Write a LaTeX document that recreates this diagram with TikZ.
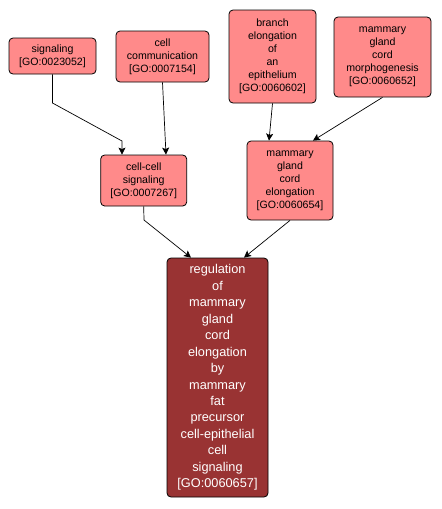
\documentclass[tikz,border=0pt]{standalone}
\usepackage{fontspec}
\setmainfont{Liberation Sans}
\usetikzlibrary{arrows.meta}
\definecolor{lightnode}{RGB}{255,138,138}
\definecolor{darknode}{RGB}{153,51,51}
\begin{document}
\begin{tikzpicture}[x=1pt,y=-1pt,
  gonode/.style={draw=black, line width=0.8pt, rounded corners=4pt, fill=lightnode,
    inner sep=0pt, align=center, font=\fontsize{10.6}{13}\selectfont},
  focusnode/.style={draw=black, line width=0.8pt, rounded corners=4pt, fill=darknode,
    text=white, inner sep=0pt, align=center, font=\fontsize{12.75}{16.45}\selectfont},
  isa/.style={draw=black, line width=0.7pt, -{Stealth[length=7pt,width=7pt,inset=1.5pt]}}
]
\useasboundingbox (0,0) rectangle (442,509);

\node[gonode, minimum width=87pt, minimum height=36pt, text width=87pt] (sig) at (52.5,56) {signaling\\{}[GO:0023052]};
\node[gonode, minimum width=93pt, minimum height=51pt, text width=93pt] (comm) at (162.5,56.5) {cell\\communication\\{}[GO:0007154]};
\node[gonode, minimum width=86pt, minimum height=51pt, text width=86pt] (cc) at (143.7,180.5) {cell-cell\\signaling\\{}[GO:0007267]};
\node[gonode, minimum width=87pt, minimum height=93pt, text width=87pt] (branch) at (272.5,56.5) {branch\\elongation\\of\\an\\epithelium\\{}[GO:0060602]};
\node[gonode, minimum width=97pt, minimum height=80pt, text width=97pt] (morph) at (382.5,57) {mammary\\gland\\cord\\morphogenesis\\{}[GO:0060652]};
\node[gonode, minimum width=86pt, minimum height=79pt, text width=86pt] (mce) at (290,180.5) {mammary\\gland\\cord\\elongation\\{}[GO:0060654]};
\node[focusnode, minimum width=101pt, minimum height=239pt, text width=101pt] (reg) at (217.5,377.5) {regulation\\of\\mammary\\gland\\cord\\elongation\\by\\mammary\\fat\\precursor\\cell-epithelial\\cell\\signaling\\{}[GO:0060657]};

\coordinate (b1) at (52.5,103);
\coordinate (b2) at (122,141);
\coordinate (b3) at (144,220);

\draw[isa] (sig.south) -- (b1) -- (b2) -- ([xshift=-21.7pt]cc.north);
\draw[isa] (comm.south) -- ([xshift=22.3pt]cc.north);
\draw[isa] (branch.south) -- ([xshift=-21pt]mce.north);
\draw[isa] (morph.south) -- ([xshift=23pt]mce.north);
\draw[isa] (cc.south) -- (b3) -- ([xshift=-26.5pt]reg.north);
\draw[isa] (mce.south) -- ([xshift=26.5pt]reg.north);
\end{tikzpicture}
\end{document}
